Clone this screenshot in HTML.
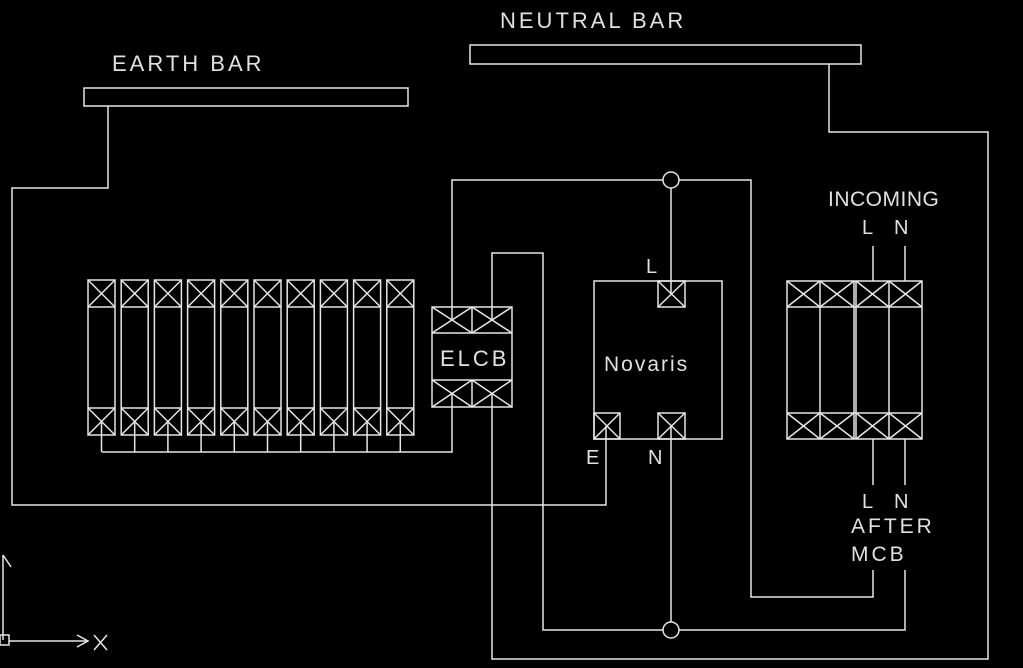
<!DOCTYPE html>
<html><head><style>
html,body{margin:0;padding:0;background:#000;}
svg{display:block;}
text{font-family:"Liberation Sans",sans-serif;fill:#e0e0e0;font-size:22px;letter-spacing:3px;}
text.n{letter-spacing:0;}
</style></head><body>
<svg width="1023" height="668" viewBox="0 0 1023 668" xmlns="http://www.w3.org/2000/svg">
<rect width="1023" height="668" fill="#000"/>
<g stroke="#e6e6e6" stroke-width="1.5" fill="none">
<rect x="84" y="88" width="324" height="18"/>
<rect x="470" y="45" width="391" height="19"/>
<polyline points="108,106 108,188 12,188 12,505 606,505 606,426"/>
<polyline points="829,64 829,132 988,132 988,659 492,659 492,393"/>
<polyline points="452,320 452,180 663,180"/>
<polyline points="679,180 751,180 751,597 873,597 873,570"/>
<polyline points="492,320 492,253 543,253 543,630 663,630"/>
<polyline points="679,630 905,630 905,570"/>
<circle cx="671" cy="180" r="8"/>
<circle cx="671" cy="630" r="8"/>
<line x1="671" y1="188" x2="671" y2="294"/>
<line x1="671" y1="426" x2="671" y2="622"/>
<polyline points="452,393 452,452 102,452"/>
<line x1="873" y1="246" x2="873" y2="281"/>
<line x1="905" y1="246" x2="905" y2="281"/>
<line x1="873" y1="439" x2="873" y2="485"/>
<line x1="905" y1="439" x2="905" y2="485"/>
<g id="b">
<rect x="88" y="280" width="27" height="155"/>
<line x1="88" y1="307" x2="115" y2="307"/>
<line x1="88" y1="408" x2="115" y2="408"/>
<line x1="88" y1="280" x2="115" y2="307"/><line x1="115" y1="280" x2="88" y2="307"/>
<line x1="88" y1="408" x2="115" y2="435"/><line x1="115" y1="408" x2="88" y2="435"/>
<line x1="101.5" y1="421" x2="101.5" y2="452"/>
</g>
<use href="#b" x="33.2"/><use href="#b" x="66.4"/><use href="#b" x="99.6"/><use href="#b" x="132.8"/>
<use href="#b" x="166"/><use href="#b" x="199.2"/><use href="#b" x="232.4"/><use href="#b" x="265.6"/><use href="#b" x="298.8"/>
<rect x="432" y="307" width="80" height="100"/>
<line x1="432" y1="333" x2="512" y2="333"/>
<line x1="432" y1="380" x2="512" y2="380"/>
<line x1="472" y1="307" x2="472" y2="333"/><line x1="472" y1="380" x2="472" y2="407"/>
<path d="M432 307L472 333M472 307L432 333M472 307L512 333M512 307L472 333"/>
<path d="M432 380L472 407M472 380L432 407M472 380L512 407M512 380L472 407"/>
<rect x="594" y="281" width="128" height="158"/>
<rect x="658" y="281" width="27" height="26"/>
<path d="M658 281L685 307M685 281L658 307"/>
<rect x="594" y="413" width="26" height="26"/>
<path d="M594 413L620 439M620 413L594 439"/>
<rect x="658" y="413" width="27" height="26"/>
<path d="M658 413L685 439M685 413L658 439"/>
<rect x="787" y="281" width="135" height="158"/>
<line x1="787" y1="307" x2="922" y2="307"/>
<line x1="787" y1="413" x2="922" y2="413"/>
<line x1="820" y1="281" x2="820" y2="439"/>
<line x1="854" y1="281" x2="854" y2="439"/>
<line x1="856" y1="281" x2="856" y2="439"/>
<line x1="889" y1="281" x2="889" y2="439"/>
<path d="M787 281L820 307M820 281L787 307M820 281L854 307M854 281L820 307M856 281L889 307M889 281L856 307M889 281L922 307M922 281L889 307"/>
<path d="M787 413L820 439M820 413L787 439M820 413L854 439M854 413L820 439M856 413L889 439M889 413L856 439M889 413L922 439M922 413L889 439"/>
<line x1="3" y1="640" x2="3" y2="555"/>
<path d="M3 555L11 567"/>
<rect x="0" y="635" width="9" height="10"/>
<line x1="9" y1="641" x2="88" y2="641"/>
<path d="M77 635L88 641L77 647M94 635L107 650M107 635L94 650"/>
</g>
<text x="112" y="71">EARTH BAR</text>
<text x="500" y="28">NEUTRAL BAR</text>
<text x="440" y="366" style="font-size:22px">ELCB</text>
<text x="604" y="371" style="font-size:21px;letter-spacing:2px">Novaris</text>
<text x="646" y="273" style="font-size:20px">L</text>
<text x="586" y="464" style="font-size:20px">E</text>
<text x="648" y="464" style="font-size:20px">N</text>
<text class="n" x="828" y="206" style="font-size:21px;letter-spacing:0.5px">INCOMING</text>
<text x="862" y="234" style="font-size:20px">L</text>
<text x="894" y="234" style="font-size:20px">N</text>
<text x="862" y="508" style="font-size:20px">L</text>
<text x="894" y="508" style="font-size:20px">N</text>
<text x="851" y="533" style="font-size:21px">AFTER</text>
<text x="851" y="561" style="font-size:21px">MCB</text>
</svg>
</body></html>
